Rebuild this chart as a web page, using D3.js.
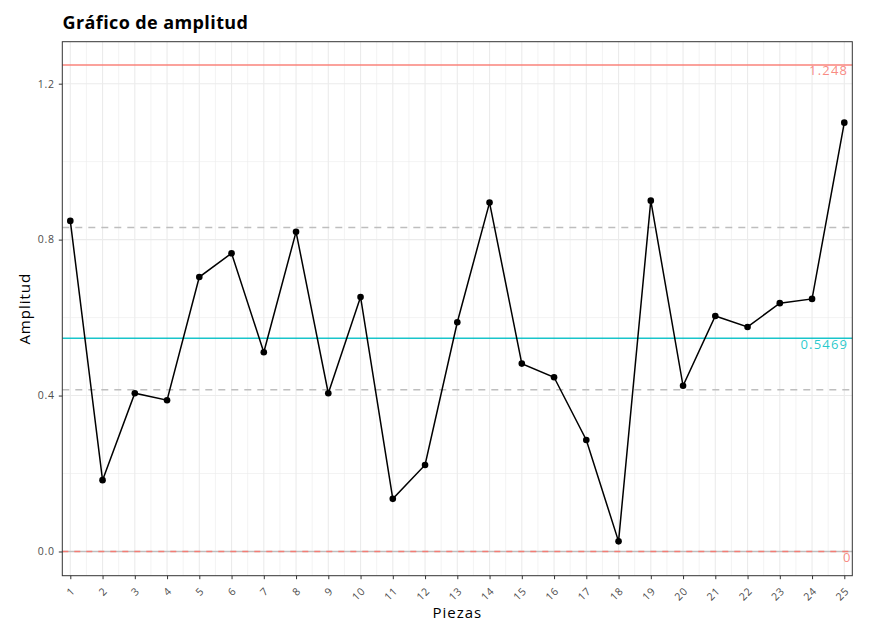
<!DOCTYPE html>
<html><head><meta charset="utf-8">
<script src="https://cdn.jsdelivr.net/npm/d3@7"></script>
<style>body{margin:0;background:#fff;} svg{display:block;font-family:"Open Sans","Noto Sans",sans-serif;}</style>
</head><body>
<svg id="chart" width="870" height="626"></svg>
<script>
const piezas = d3.range(1, 26);
const amplitud = [0.848, 0.183, 0.406, 0.388, 0.704, 0.765, 0.511, 0.820, 0.406, 0.653,
                  0.135, 0.222, 0.588, 0.895, 0.482, 0.447, 0.286, 0.026, 0.900, 0.425,
                  0.604, 0.576, 0.637, 0.648, 1.100];
const limites = [ {v:1.248, label:"1.248", color:"#F8766D"},
                  {v:0.5469, label:"0.5469", color:"#00BFC4"},
                  {v:0, label:"0", color:"#F8766D"} ];
const lineasSigma = [0.831, 0.415, 0];
const yTicks = [0, 0.4, 0.8, 1.2];
const yMinor = [0.2, 0.6, 1.0];

const svg = d3.select("#chart");
const m = {l:62.3, t:41.7, r:852.3, b:575.7};
const x = d3.scaleLinear().domain([0.752, 25.248]).range([m.l, m.r]);
const y = d3.scaleLinear().domain([-0.0621, 1.3077]).range([m.b, m.t]);

// grid
const g = svg.append("g");
g.selectAll(".hmin").data(yMinor).join("line").attr("x1",m.l).attr("x2",m.r)
 .attr("y1",d=>y(d)).attr("y2",d=>y(d)).attr("stroke","#EBEBEB").attr("stroke-width",0.6);
g.selectAll(".vmin").data(piezas.slice(0,-1).map(d=>d+0.5)).join("line")
 .attr("y1",m.t).attr("y2",m.b)
 .attr("x1",d=>x(d)).attr("x2",d=>x(d)).attr("stroke","#EBEBEB").attr("stroke-width",0.6);
g.selectAll(".hmaj").data(yTicks).join("line").attr("x1",m.l).attr("x2",m.r)
 .attr("y1",d=>y(d)).attr("y2",d=>y(d)).attr("stroke","#EBEBEB").attr("stroke-width",1.1);
g.selectAll(".vmaj").data(piezas).join("line").attr("y1",m.t).attr("y2",m.b)
 .attr("x1",d=>x(d)).attr("x2",d=>x(d)).attr("stroke","#EBEBEB").attr("stroke-width",1.1);

// sigma dashed lines
svg.selectAll(".sig").data(lineasSigma).join("line")
 .attr("x1",m.l).attr("x2",m.r).attr("y1",d=>y(d)).attr("y2",d=>y(d))
 .attr("stroke","#BEBEBE").attr("stroke-width",1.5)
 .attr("stroke-dasharray",d=>d===0?null:"7,6");

// control lines
svg.selectAll(".lim").data(limites).join("line")
 .attr("x1",m.l).attr("x2",m.r).attr("y1",d=>y(d.v)).attr("y2",d=>y(d.v))
 .attr("stroke",d=>d.color).attr("stroke-opacity",0.9)
 .attr("stroke-width",1.5)
 .attr("stroke-dasharray",d=>d.v===0?"6,6":null);
svg.selectAll(".limlab").data(limites).join("text")
 .attr("x",848.2).attr("dx",d=>d.v===0?3.5:0).attr("y",d=>y(d.v)+10.5).attr("text-anchor","end")
 .attr("font-size",13).attr("letter-spacing","1.2px")
 .attr("fill",d=>d.color).attr("fill-opacity",0.85)
 .text(d=>d.label);

// data line and points
const pts = piezas.map((p,i)=>({p, v:amplitud[i]}));
svg.append("path").datum(pts)
 .attr("d", d3.line().x(d=>x(d.p)).y(d=>y(d.v)))
 .attr("fill","none").attr("stroke","#000").attr("stroke-width",1.5);
svg.selectAll(".pt").data(pts).join("circle")
 .attr("cx",d=>x(d.p)).attr("cy",d=>y(d.v)).attr("r",3.3).attr("fill","#000");

// panel border
svg.append("rect").attr("x",m.l).attr("y",m.t).attr("width",m.r-m.l).attr("height",m.b-m.t)
 .attr("fill","none").attr("stroke","#333").attr("stroke-width",1);

// axes
const ya = svg.append("g").attr("transform",`translate(${m.l},0)`)
 .call(d3.axisLeft(y).tickValues(yTicks).tickFormat(d3.format(".1f")).tickSize(3.5).tickPadding(4));
const xa = svg.append("g").attr("transform",`translate(0,${m.b})`)
 .call(d3.axisBottom(x).tickValues(piezas).tickFormat(d3.format("d")).tickSize(3.5));
[ya,xa].forEach(a=>{ a.select(".domain").remove();
  a.selectAll(".tick line").attr("stroke","#333");
  a.selectAll("text").attr("fill","#4D4D4D").attr("font-size",10.5).attr("letter-spacing","0.8px")
   .attr("font-family",'"Open Sans","Noto Sans",sans-serif'); });
xa.selectAll(".tick text").attr("text-anchor","end").attr("y",0).attr("dy",0)
 .attr("transform","translate(5,16) rotate(-45)");

// titles
svg.append("text").attr("x",62.5).attr("y",29).attr("font-size",18).attr("font-weight","bold")
 .attr("letter-spacing","0.4px").attr("fill","#000").text("Gráfico de amplitud");
svg.append("text").attr("x",(m.l+m.r)/2).attr("y",618).attr("text-anchor","middle")
 .attr("font-size",15).attr("letter-spacing","1px").attr("fill","#000").text("Piezas");
svg.append("text").attr("transform",`translate(30,${(m.t+m.b)/2}) rotate(-90)`)
 .attr("text-anchor","middle").attr("font-size",15).attr("letter-spacing","1px")
 .attr("fill","#000").text("Amplitud");
</script>
</body></html>
